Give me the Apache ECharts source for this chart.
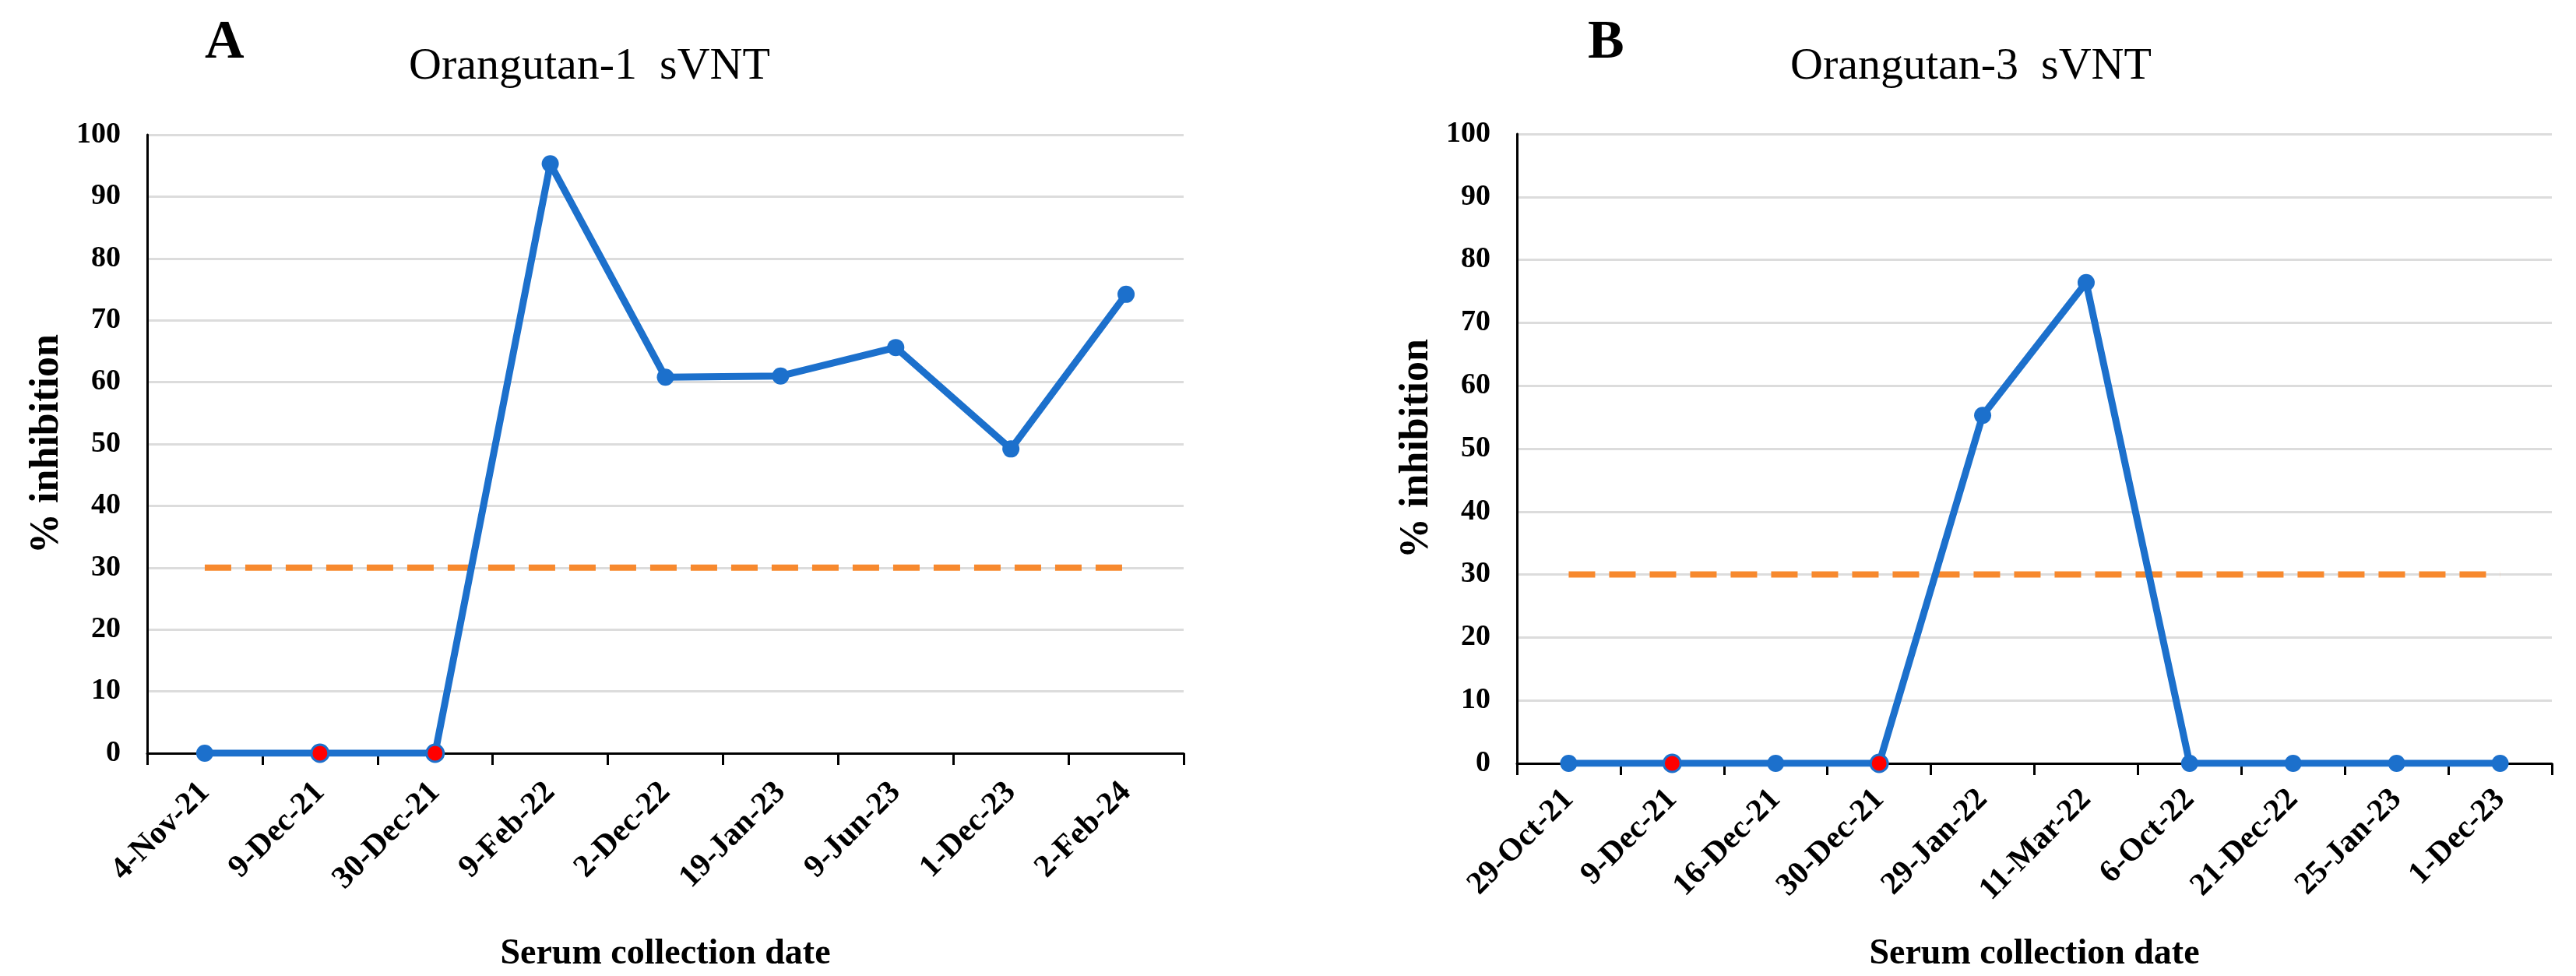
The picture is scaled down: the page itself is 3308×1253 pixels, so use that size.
<!DOCTYPE html>
<html>
<head>
<meta charset="utf-8">
<script src="https://cdn.jsdelivr.net/npm/echarts@6/dist/echarts.min.js"></script>
<style>
html,body{margin:0;padding:0;background:#fff;}
#c{width:3308px;height:1253px;}
</style>
</head>
<body>
<div id="c"></div>
<script>
// ---- data ----
const datesA = ['4-Nov-21','9-Dec-21','30-Dec-21','9-Feb-22','2-Dec-22','19-Jan-23','9-Jun-23','1-Dec-23','2-Feb-24'];
const valuesA = [0, 0, 0, 95.3, 60.8, 61.0, 65.6, 49.2, 74.2];
const redIdxA = [1, 2];

const datesB = ['29-Oct-21','9-Dec-21','16-Dec-21','30-Dec-21','29-Jan-22','11-Mar-22','6-Oct-22','21-Dec-22','25-Jan-23','1-Dec-23'];
const valuesB = [0, 0, 0, 0, 55.3, 76.4, 0, 0, 0, 0];
const redIdxB = [1, 3];

const cutoff = 30;
const yTicks = [0,10,20,30,40,50,60,70,80,90,100];

// ---- styles ----
const FONT = '"Liberation Serif","Times New Roman",serif';
const BLUE = '#1C70CC';
const RED = '#FF0000';
const ORANGE = '#F7892E';

function mkData(vals, reds){
  return vals.map((v,i)=> reds.indexOf(i) >= 0
    ? {value:v, itemStyle:{color:RED, borderColor:BLUE, borderWidth:3}}
    : {value:v});
}

function xAxis(idx, cats, gap, margin){
  return {
    type:'category', gridIndex:idx, data:cats, boundaryGap:true,
    axisLine:{show:true, onZero:true, lineStyle:{color:'#000', width:3}},
    axisTick:{show:true, length:15, lineStyle:{color:'#000', width:3}},
    axisLabel:{rotate:45, fontFamily:FONT, fontWeight:'bold', fontSize:41, color:'#000', margin:margin, interval:0},
    splitLine:{show:false},
    name:'Serum collection date', nameLocation:'middle', nameGap:gap,
    nameTextStyle:{fontFamily:FONT, fontWeight:'bold', fontSize:46, color:'#000'}
  };
}
function yAxis(idx){
  return {
    type:'value', gridIndex:idx, min:yTicks[0], max:yTicks[yTicks.length-1], interval:yTicks[1]-yTicks[0],
    axisLine:{show:true, lineStyle:{color:'#000', width:3}},
    axisTick:{show:false},
    axisLabel:{fontFamily:FONT, fontWeight:'bold', fontSize:38, color:'#000', margin:34},
    splitLine:{show:true, lineStyle:{color:'#dcdcdc', width:3}},
    name:'% inhibition', nameLocation:'middle', nameGap:102, nameRotate:90,
    nameTextStyle:{fontFamily:FONT, fontWeight:'bold', fontSize:52, color:'#000'}
  };
}
function lineSeries(idx, vals, reds){
  return {
    type:'line', xAxisIndex:idx, yAxisIndex:idx, data:mkData(vals, reds),
    symbol:'circle', symbolSize:22, z:5,
    lineStyle:{color:BLUE, width:9},
    itemStyle:{color:BLUE},
    animation:false
  };
}
function cutSeries(idx, n){
  return {
    type:'line', xAxisIndex:idx, yAxisIndex:idx, data:new Array(n).fill(cutoff),
    symbol:'none', z:3,
    lineStyle:{color:ORANGE, width:8, type:[34,18]},
    animation:false
  };
}

const chart = echarts.init(document.getElementById('c'));
chart.setOption({
  backgroundColor:'#fff',
  animation:false,
  title:[
    {text:'A', left:258, top:16, textStyle:{fontFamily:FONT, fontWeight:'bold', fontSize:70, color:'#000'}},
    {text:'Orangutan-1  sVNT', left:520, top:52, textStyle:{fontFamily:FONT, fontWeight:'normal', fontSize:58, color:'#000'}},
    {text:'B', left:2034, top:16, textStyle:{fontFamily:FONT, fontWeight:'bold', fontSize:70, color:'#000'}},
    {text:'Orangutan-3  sVNT', left:2294, top:52, textStyle:{fontFamily:FONT, fontWeight:'normal', fontSize:58, color:'#000'}}
  ],
  grid:[
    {left:189, right:1788, top:173, bottom:285},
    {left:1948, right:31, top:172, bottom:272}
  ],
  xAxis:[xAxis(0, datesA, 235, 44), xAxis(1, datesB, 222, 40)],
  yAxis:[yAxis(0), yAxis(1)],
  series:[
    cutSeries(0, datesA.length),
    lineSeries(0, valuesA, redIdxA),
    cutSeries(1, datesB.length),
    lineSeries(1, valuesB, redIdxB)
  ]
});
</script>
</body>
</html>
